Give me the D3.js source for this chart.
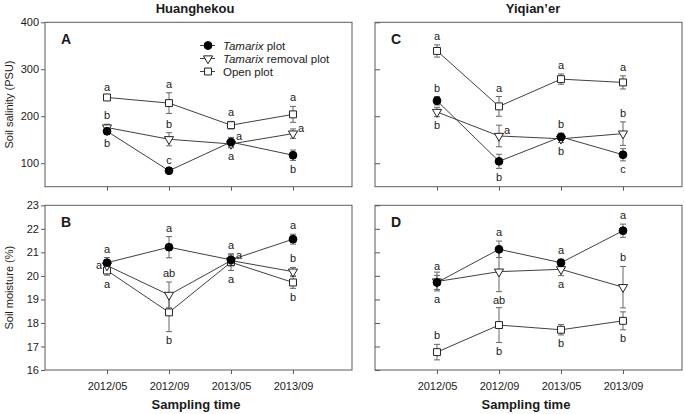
<!DOCTYPE html>
<html>
<head>
<meta charset="utf-8">
<script src="https://cdn.jsdelivr.net/npm/d3@7"></script>
<style>
  html, body { margin: 0; padding: 0; background: #fff; }
  svg { display: block; font-family: "Liberation Sans", Arial, sans-serif; }
</style>
</head>
<body>
<svg id="chart" width="685" height="414"></svg>
<script>
// ---------------- data ----------------
const times = ["2012/05", "2012/09", "2013/05", "2013/09"];
const seriesNames = ["Tamarix plot", "Tamarix removal plot", "Open plot"];
const sites = ["Huanghekou", "Yiqian\u2019er"];
const panelLabels = ["A", "B", "C", "D"];
const salinityTicks = [100, 200, 300, 400];
const moistureTicks = [16, 17, 18, 19, 20, 21, 22, 23];
const salinityDomain = [50, 400];
const moistureDomain = [16, 23];

// A: Huanghekou soil salinity  (Tamarix, removal, open)
const salinityH = [[168, 84, 145, 117], [176, 151, 141, 163], [240, 228, 181, 204]];
const salinityHErr = [[6, 4, 10, 11], [7, 14, 8, 10], [4, 22, 8, 17]];
const salinityHLetters = [
  [["b","below"], ["c","above"], ["a","right"], ["b","below"]],
  [["b","above"], ["b","above"], ["a","below"], ["a","right"]],
  [["a","above"], ["a","above"], ["a","above"], ["a","above"]]
];
// B: Huanghekou soil moisture
const moistureH = [[20.56, 21.22, 20.68, 21.56], [20.44, 19.19, 20.65, 20.18], [20.23, 18.45, 20.58, 19.72]];
const moistureHErr = [[0.22, 0.45, 0.25, 0.21], [0.15, 0.55, 0.2, 0.18], [0.2, 0.82, 0.35, 0.25]];
const moistureHLetters = [
  [["a","above"], ["a","above"], ["a","above"], ["a","above"]],
  [["a","left"], ["ab","above"], ["a","right"], ["b","above"]],
  [["a","below"], ["b","below"], ["a","below"], ["b","below"]]
];
// C: Yiqian'er soil salinity
const salinityY = [[233, 104, 156, 118], [209, 158, 152, 163], [339, 221, 279, 272]];
const salinityYErr = [[9, 15, 8, 13], [10, 23, 8, 25], [13, 21, 11, 14]];
const salinityYLetters = [
  [["b","above"], ["b","below"], ["b","above"], ["c","below"]],
  [["b","below"], ["a","right"], ["b","below"], ["b","above"]],
  [["a","above"], ["a","above"], ["a","above"], ["a","above"]]
];
// D: Yiqian'er soil moisture
const moistureY = [[19.72, 21.13, 20.56, 21.92], [19.76, 20.18, 20.28, 19.52], [16.76, 17.91, 17.71, 18.09]];
const moistureYErr = [[0.3, 0.35, 0.15, 0.28], [0.4, 0.85, 0.27, 0.88], [0.33, 0.74, 0.22, 0.38]];
const moistureYLetters = [
  [["a","above"], ["a","above"], ["a","above"], ["a","above"]],
  [["a","below"], ["ab","below"], ["a","below"], ["b","above"]],
  [["b","above"], ["b","below"], ["b","below"], ["b","below"]]
];

// ---------------- layout ----------------
const svg = d3.select("#chart");
const LINE = "#2a2a2a", FRAME = "#5a5a5a", ERR = "#666", TEXT = "#1a1a1a";

const panels = [
  { label: panelLabels[0], x0: 45,  x1: 352, top: 22.3,  bot: 186.7, vals: salinityH, errs: salinityHErr, lets: salinityHLetters, dom: salinityDomain, ticks: salinityTicks, leftLabels: true,  xLabels: false, legend: true },
  { label: panelLabels[1], x0: 45,  x1: 352, top: 205.3, bot: 370,   vals: moistureH, errs: moistureHErr, lets: moistureHLetters, dom: moistureDomain, ticks: moistureTicks, leftLabels: true,  xLabels: true },
  { label: panelLabels[2], x0: 375, x1: 682, top: 22.3,  bot: 186.7, vals: salinityY, errs: salinityYErr, lets: salinityYLetters, dom: salinityDomain, ticks: salinityTicks, leftLabels: false, xLabels: false },
  { label: panelLabels[3], x0: 375, x1: 682, top: 205.3, bot: 370,   vals: moistureY, errs: moistureYErr, lets: moistureYLetters, dom: moistureDomain, ticks: moistureTicks, leftLabels: false, xLabels: true }
];

const symbolFor = [
  { type: d3.symbolCircle,   size: 48, fill: "#000", rot: 0 },
  { type: d3.symbolTriangle, size: 36, fill: "#fff", rot: 180 },
  { type: d3.symbolSquare,   size: 48, fill: "#fff", rot: 0 }
];

function drawSymbol(g, s, x, y) {
  g.append("path")
    .attr("d", d3.symbol().type(s.type).size(s.size)())
    .attr("transform", `translate(${x},${y}) rotate(${s.rot})`)
    .attr("fill", s.fill)
    .attr("stroke", s.fill === "#000" ? "#000" : "#222")
    .attr("stroke-width", 1);
}

panels.forEach(p => {
  const g = svg.append("g");
  const x = d3.scalePoint().domain(times).range([p.x0 + 62, p.x0 + 248]);
  const y = d3.scaleLinear().domain(p.dom).range([p.bot, p.top]);

  // y axis
  const ya = p.leftLabels
    ? d3.axisLeft(y).tickValues(p.ticks).tickFormat(d3.format("d")).tickSize(4).tickPadding(2).tickSizeOuter(0)
    : d3.axisRight(y).tickValues(p.ticks).tickSize(5).tickFormat("").tickSizeOuter(0);
  const yg = g.append("g").attr("transform", `translate(${p.x0},0)`).call(ya);
  yg.select(".domain").remove();
  yg.selectAll("line").attr("stroke", FRAME);
  yg.selectAll("text").attr("font-size", 11).attr("fill", TEXT).attr("font-family", "Liberation Sans, Arial, sans-serif");

  // x axis
  const xa = d3.axisBottom(x).tickSize(4).tickPadding(8).tickSizeOuter(0);
  if (!p.xLabels) xa.tickFormat("");
  const xg = g.append("g").attr("transform", `translate(0,${p.bot})`).call(xa);
  xg.select(".domain").remove();
  xg.selectAll("line").attr("stroke", FRAME);
  xg.selectAll("text").attr("font-size", 11).attr("fill", TEXT).attr("font-family", "Liberation Sans, Arial, sans-serif");

  // frame
  g.append("rect").attr("x", p.x0).attr("y", p.top)
    .attr("width", p.x1 - p.x0).attr("height", p.bot - p.top)
    .attr("fill", "none").attr("stroke", FRAME).attr("stroke-width", 1);

  // panel label
  g.append("text").attr("x", p.x0 + 16).attr("y", p.top + 22)
    .attr("font-size", 14).attr("font-weight", "bold").attr("fill", TEXT).text(p.label);

  const line = d3.line().x((d, i) => x(times[i])).y(d => y(d));
  // lines
  p.vals.forEach(vals => {
    g.append("path").attr("d", line(vals)).attr("fill", "none")
      .attr("stroke", LINE).attr("stroke-width", 0.9);
  });
  // error bars
  p.vals.forEach((vals, si) => {
    vals.forEach((v, i) => {
      const e = p.errs[si][i], cx = x(times[i]);
      const eg = g.append("g").attr("stroke", ERR).attr("stroke-width", 1);
      eg.append("line").attr("x1", cx).attr("x2", cx).attr("y1", y(v - e)).attr("y2", y(v + e));
      eg.append("line").attr("x1", cx - 3).attr("x2", cx + 3).attr("y1", y(v - e)).attr("y2", y(v - e));
      eg.append("line").attr("x1", cx - 3).attr("x2", cx + 3).attr("y1", y(v + e)).attr("y2", y(v + e));
    });
  });
  // markers (open plot, removal, then Tamarix on top)
  [2, 1, 0].forEach(si => {
    p.vals[si].forEach((v, i) => drawSymbol(g, symbolFor[si], x(times[i]), y(v)));
  });
  // significance letters
  p.vals.forEach((vals, si) => {
    vals.forEach((v, i) => {
      const [txt, pos] = p.lets[si][i];
      const e = p.errs[si][i], cx = x(times[i]);
      let tx = cx, ty, anchor = "middle";
      if (pos === "above") ty = y(v + e) - 5;
      else if (pos === "below") ty = y(v - e) + 12.5;
      else if (pos === "left") { tx = cx - 5; ty = y(v) + 3.5; anchor = "end"; }
      else { tx = cx + 5; ty = y(v) - 2; anchor = "start"; }
      g.append("text").attr("x", tx).attr("y", ty).attr("text-anchor", anchor)
        .attr("font-size", 11).attr("fill", TEXT).text(txt);
    });
  });

  // legend
  if (p.legend) {
    seriesNames.forEach((name, si) => {
      const ly = 45.5 + si * 13;
      g.append("line").attr("x1", 200).attr("x2", 215).attr("y1", ly).attr("y2", ly)
        .attr("stroke", LINE).attr("stroke-width", 0.9);
      drawSymbol(g, symbolFor[si], 208, ly);
      const t = g.append("text").attr("x", 223).attr("y", ly + 4)
        .attr("font-size", 11.5).attr("fill", TEXT);
      if (name.startsWith("Tamarix")) {
        t.append("tspan").attr("font-style", "italic").text("Tamarix");
        t.append("tspan").text(name.slice(7));
      } else {
        t.text(name);
      }
    });
  }
});

// site titles
[[sites[0], 195], [sites[1], 533]].forEach(([s, cx]) => {
  svg.append("text").attr("x", cx).attr("y", 12.5).attr("text-anchor", "middle")
    .attr("font-size", 13).attr("font-weight", "bold").attr("fill", TEXT).text(s);
});
// x axis titles
[196, 526].forEach(cx => {
  svg.append("text").attr("x", cx).attr("y", 408.5).attr("text-anchor", "middle")
    .attr("font-size", 13).attr("font-weight", "bold").attr("fill", TEXT).text("Sampling time");
});
// y axis titles
[["Soil salinity (PSU)", 104.5], ["Soil moisture (%)", 287.7]].forEach(([s, cy]) => {
  svg.append("text").attr("transform", `translate(12.5,${cy}) rotate(-90)`)
    .attr("text-anchor", "middle").attr("font-size", 11).attr("fill", TEXT).text(s);
});
</script>
</body>
</html>
